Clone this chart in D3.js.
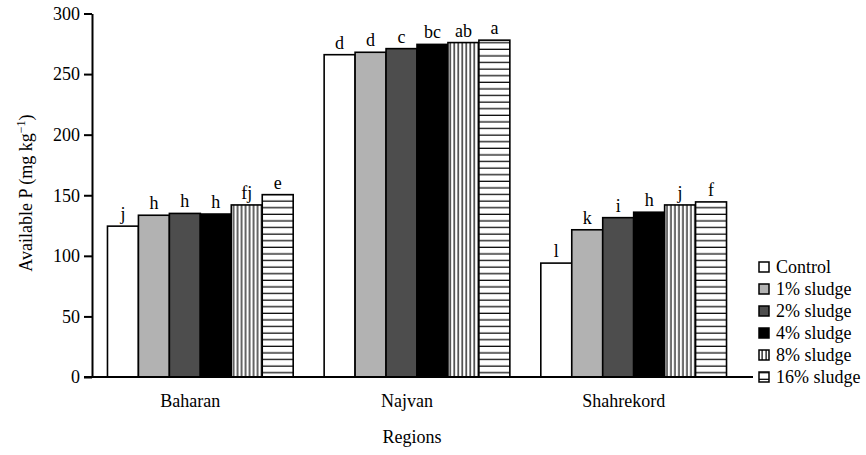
<!DOCTYPE html>
<html>
<head>
<meta charset="utf-8">
<script src="https://cdn.jsdelivr.net/npm/d3@7"></script>
<style>
  body { margin: 0; background: #fff; }
  svg { display: block; }
  text { font-family: "Liberation Serif", "Times New Roman", serif; fill: #000; }
</style>
</head>
<body>
<svg id="chart" width="866" height="455"></svg>
<script>
// ---- data ----
const regions = ["Baharan", "Najvan", "Shahrekord"];
const seriesNames = ["Control", "1% sludge", "2% sludge", "4% sludge", "8% sludge", "16% sludge"];
const controlVals = [124.5, 266, 94];
const sludge1Vals = [133.5, 268, 121.5];
const sludge2Vals = [135, 271, 131.5];
const sludge4Vals = [134.5, 274.5, 136];
const sludge8Vals = [142, 276, 142];
const sludge16Vals = [150.5, 278, 144.5];
const controlLetters = ["j", "d", "l"];
const sludge1Letters = ["h", "d", "k"];
const sludge2Letters = ["h", "c", "i"];
const sludge4Letters = ["h", "bc", "h"];
const sludge8Letters = ["fj", "ab", "j"];
const sludge16Letters = ["e", "a", "f"];
const yTicks = [0, 50, 100, 150, 200, 250, 300];

const seriesVals = [controlVals, sludge1Vals, sludge2Vals, sludge4Vals, sludge8Vals, sludge16Vals];
const seriesLetters = [controlLetters, sludge1Letters, sludge2Letters, sludge4Letters, sludge8Letters, sludge16Letters];

// ---- layout ----
const svg = d3.select("#chart");
const fills = ["#ffffff", "#b2b2b2", "#4d4d4d", "#000000", "url(#vstripe)", "url(#hstripe)"];

const defs = svg.append("defs");
const vp = defs.append("pattern").attr("id", "vstripe").attr("patternUnits", "userSpaceOnUse")
  .attr("width", 4).attr("height", 4);
vp.append("rect").attr("width", 4).attr("height", 4).attr("fill", "#fff");
vp.append("rect").attr("x", 1.5).attr("width", 1.2).attr("height", 4).attr("fill", "#000");
const hp = defs.append("pattern").attr("id", "hstripe").attr("patternUnits", "userSpaceOnUse")
  .attr("width", 6.6).attr("height", 6.6);
hp.append("rect").attr("width", 6.6).attr("height", 6.6).attr("fill", "#fff");
hp.append("rect").attr("y", 2.5).attr("width", 6.6).attr("height", 1.2).attr("fill", "#000");

const y = d3.scaleLinear().domain([0, 300]).range([377, 13.5]);
const x0 = d3.scaleBand().domain(regions).range([92, 742]).paddingInner(1/7).paddingOuter(1/14);
const x1 = d3.scaleBand().domain(d3.range(seriesNames.length)).range([0, x0.bandwidth()]);

// bars
regions.forEach((r, ri) => {
  const g = svg.append("g").attr("transform", `translate(${x0(r)},0)`);
  seriesNames.forEach((s, si) => {
    const v = seriesVals[si][ri];
    g.append("rect")
      .attr("x", x1(si))
      .attr("y", y(v))
      .attr("width", x1.bandwidth())
      .attr("height", y(0) - y(v))
      .attr("fill", fills[si])
      .attr("stroke", "#000")
      .attr("stroke-width", 1.6);
    g.append("text")
      .attr("x", x1(si) + x1.bandwidth() / 2)
      .attr("y", y(v) - 6)
      .attr("text-anchor", "middle")
      .attr("font-size", 18)
      .text(seriesLetters[si][ri]);
  });
});

// y axis
const yAxis = d3.axisLeft(y).tickValues(yTicks).tickSize(8).tickPadding(4).tickSizeOuter(0);
const ya = svg.append("g").attr("transform", "translate(92,0)").call(yAxis);
ya.selectAll("text").attr("font-size", 18).style("font-family", '"Liberation Serif", serif');
ya.selectAll("line, path").attr("stroke", "#000").attr("stroke-width", 2);

// baseline
svg.append("line").attr("x1", 84).attr("x2", 753).attr("y1", y(0)).attr("y2", y(0))
  .attr("stroke", "#000").attr("stroke-width", 2);

// category labels
svg.selectAll(".cat").data(regions).join("text")
  .attr("class", "cat")
  .attr("x", d => x0(d) + x0.bandwidth() / 2 - 10)
  .attr("y", 407)
  .attr("text-anchor", "middle")
  .attr("font-size", 18)
  .text(d => d);

// axis titles
svg.append("text").attr("x", 412).attr("y", 443).attr("text-anchor", "middle")
  .attr("font-size", 18).text("Regions");
const yt = svg.append("text").attr("transform", "translate(32,193) rotate(-90)")
  .attr("text-anchor", "middle").attr("font-size", 18);
yt.append("tspan").text("Available P (mg kg");
yt.append("tspan").attr("dy", -7).attr("font-size", 12).text("−1");
yt.append("tspan").attr("dy", 7).text(")");

// legend
const leg = svg.append("g");
seriesNames.forEach((s, i) => {
  const cy = 267 + i * 22;
  leg.append("rect").attr("x", 759).attr("y", cy - 5).attr("width", 10).attr("height", 10)
    .attr("fill", fills[i]).attr("stroke", "#000").attr("stroke-width", 1.5);
  leg.append("text").attr("x", 776).attr("y", cy + 6).attr("font-size", 18).text(s);
});
</script>
</body>
</html>
